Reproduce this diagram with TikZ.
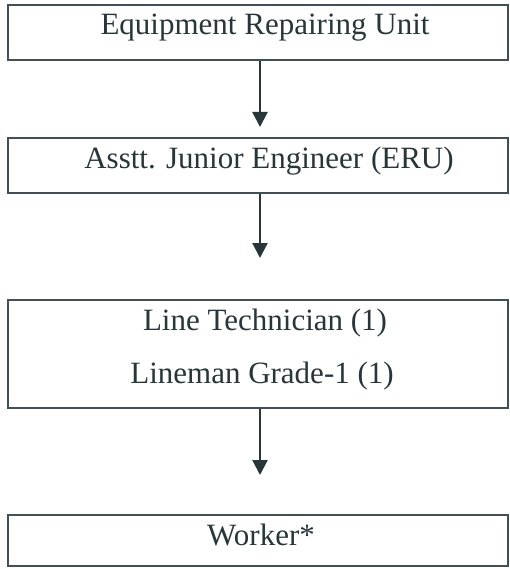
\documentclass[tikz,border=0pt]{standalone}
\usepackage{fontspec}
\setmainfont{Liberation Serif}
\usetikzlibrary{arrows.meta}
\definecolor{boxline}{RGB}{66,80,86}
\definecolor{inkc}{RGB}{40,54,58}
\begin{document}
\begin{tikzpicture}[x=1pt,y=-1pt,
  unitbox/.style={draw=boxline,line width=1.6pt,rectangle,inner sep=0pt,minimum width=500pt},
  lbl/.style={anchor=base,inner sep=0pt,text=inkc,font=\fontsize{31}{36}\selectfont},
  arr/.style={draw=inkc,line width=2.2pt,-{Triangle[width=15pt,length=15pt]}}]
\useasboundingbox (0,0) rectangle (509,569);
\fill[white] (0,0) rectangle (509,569);
\node[unitbox,minimum height=55pt] (b1) at (258,32.5) {};
\node[unitbox,minimum height=55pt] (b2) at (258,165.5) {};
\node[unitbox,minimum height=108pt] (b3) at (258,354) {};
\node[unitbox,minimum height=51pt] (b4) at (258,540.5) {};
\node[lbl] (t1) at (265,35) {Equipment Repairing Unit};
\node[lbl] (t2) at (269,169) {Asstt. Junior Engineer (ERU)};
\node[lbl] (t3a) at (265,330) {Line Technician (1)};
\node[lbl] (t3b) at (262,383) {Lineman Grade-1 (1)};
\node[lbl] (t4) at (261,545) {Worker*};
\coordinate (p1) at (260,127);
\coordinate (p2) at (260,258);
\coordinate (p3) at (260,475);
\draw[arr] (b1.south -| p1) -- (p1);
\draw[arr] (b2.south -| p2) -- (p2);
\draw[arr] (b3.south -| p3) -- (p3);
\end{tikzpicture}
\end{document}
